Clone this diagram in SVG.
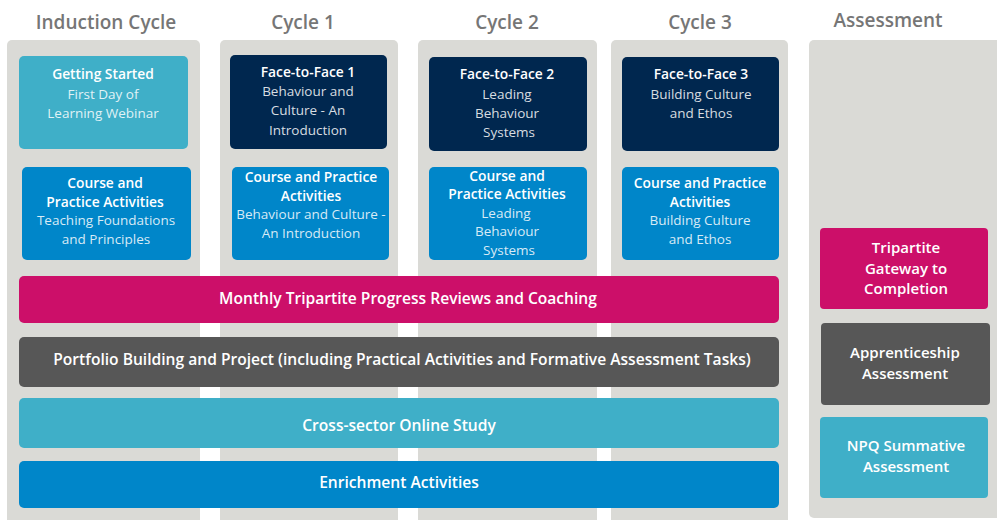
<svg xmlns="http://www.w3.org/2000/svg" width="997" height="520" viewBox="0 0 997 520">
<style>
.col{fill:#dadad6}
.hd{font-family:"Open Sans",Lato,sans-serif;font-size:19px;font-weight:600;fill:#767676;text-anchor:middle}
.b{font-family:"Open Sans",Lato,sans-serif;font-size:13.8px;font-weight:600;fill:#ffffff;text-anchor:middle}
.r{font-family:"Open Sans",Lato,sans-serif;font-size:13.5px;font-weight:400;fill:#ffffff;fill-opacity:0.85;text-anchor:middle}
.bb{font-family:"Open Sans",Lato,sans-serif;font-size:15.6px;font-weight:600;fill:#ffffff;text-anchor:middle}
.ab{font-family:"Open Sans",Lato,sans-serif;font-size:15px;font-weight:600;fill:#ffffff;text-anchor:middle}
.teal{fill:#3fafc8}.blue{fill:#0086c9}.navy{fill:#00274f}.mag{fill:#cc0f69}.dg{fill:#575757}
</style>
<g id="columns">
<rect class="col" x="7" y="40" width="193" height="490" rx="5"/>
<rect class="col" x="220" y="40" width="178" height="490" rx="5"/>
<rect class="col" x="418" y="40" width="179" height="490" rx="5"/>
<rect class="col" x="611" y="40" width="177" height="490" rx="5"/>
<rect class="col" x="809" y="40" width="200" height="478" rx="5"/>
</g>
<g id="headers">
<text class="hd" x="106" y="29">Induction Cycle</text>
<text class="hd" x="303" y="29">Cycle 1</text>
<text class="hd" x="507" y="29">Cycle 2</text>
<text class="hd" x="700" y="29">Cycle 3</text>
<text class="hd" x="888" y="27">Assessment</text>
</g>
<g id="getting-started">
<rect class="teal" x="19" y="56" width="169" height="93" rx="5"/>
<text class="b" x="103" y="79">Getting Started</text>
<text class="r" x="103" y="99">First Day of</text>
<text class="r" x="103" y="118">Learning Webinar</text>
</g>
<g id="induction-course">
<rect class="blue" x="22" y="167" width="169" height="93" rx="5"/>
<text class="b" x="105" y="188">Course and</text>
<text class="b" x="105" y="207">Practice Activities</text>
<text class="r" x="106" y="225">Teaching Foundations</text>
<text class="r" x="106" y="244">and Principles</text>
</g>
<g id="f2f1">
<rect class="navy" x="230" y="55" width="157" height="94" rx="5"/>
<text class="b" x="308" y="77">Face-to-Face 1</text>
<text class="r" x="308" y="96">Behaviour and</text>
<text class="r" x="308" y="115">Culture - An</text>
<text class="r" x="308" y="135">Introduction</text>
</g>
<g id="cycle1-course">
<rect class="blue" x="232" y="167" width="157" height="93" rx="5"/>
<text class="b" x="311" y="182">Course and Practice</text>
<text class="b" x="311" y="201">Activities</text>
<text class="r" x="311" y="219">Behaviour and Culture -</text>
<text class="r" x="311" y="238">An Introduction</text>
</g>
<g id="f2f2">
<rect class="navy" x="429" y="57" width="158" height="94" rx="5"/>
<text class="b" x="507" y="79">Face-to-Face 2</text>
<text class="r" x="507" y="99">Leading</text>
<text class="r" x="507" y="118">Behaviour</text>
<text class="r" x="509" y="137">Systems</text>
</g>
<g id="cycle2-course">
<rect class="blue" x="429" y="167" width="158" height="93" rx="5"/>
<text class="b" x="507" y="181">Course and</text>
<text class="b" x="507" y="199">Practice Activities</text>
<text class="r" x="506" y="218">Leading</text>
<text class="r" x="507" y="236">Behaviour</text>
<text class="r" x="509" y="255">Systems</text>
</g>
<g id="f2f3">
<rect class="navy" x="622" y="57" width="157" height="94" rx="5"/>
<text class="b" x="701" y="79">Face-to-Face 3</text>
<text class="r" x="701" y="99">Building Culture</text>
<text class="r" x="701" y="118">and Ethos</text>
</g>
<g id="cycle3-course">
<rect class="blue" x="622" y="167" width="157" height="93" rx="5"/>
<text class="b" x="700" y="188">Course and Practice</text>
<text class="b" x="700" y="207">Activities</text>
<text class="r" x="700" y="225">Building Culture</text>
<text class="r" x="700" y="244">and Ethos</text>
</g>
<g id="monthly-reviews">
<rect class="mag" x="19" y="276" width="760" height="47" rx="5"/>
<text class="bb" x="408" y="304">Monthly Tripartite Progress Reviews and Coaching</text>
</g>
<g id="portfolio">
<rect class="dg" x="19" y="337" width="760" height="50" rx="5"/>
<text class="bb" x="402" y="365">Portfolio Building and Project (including Practical Activities and Formative Assessment Tasks)</text>
</g>
<g id="online-study">
<rect class="teal" x="19" y="398" width="760" height="50" rx="5"/>
<text class="bb" x="399" y="431">Cross-sector Online Study</text>
</g>
<g id="enrichment">
<rect class="blue" x="19" y="461" width="760" height="47" rx="5"/>
<text class="bb" x="399" y="488">Enrichment Activities</text>
</g>
<g id="gateway">
<rect class="mag" x="820" y="228" width="168" height="81" rx="4"/>
<text class="ab" x="906" y="253">Tripartite</text>
<text class="ab" x="906" y="274">Gateway to</text>
<text class="ab" x="906" y="294">Completion</text>
</g>
<g id="apprenticeship">
<rect class="dg" x="821" y="323" width="169" height="82" rx="4"/>
<text class="ab" x="905" y="358">Apprenticeship</text>
<text class="ab" x="905" y="379">Assessment</text>
</g>
<g id="npq">
<rect class="teal" x="820" y="417" width="168" height="81" rx="4"/>
<text class="ab" x="906" y="451">NPQ Summative</text>
<text class="ab" x="906" y="472">Assessment</text>
</g>
<g id="connectors"/>
</svg>
